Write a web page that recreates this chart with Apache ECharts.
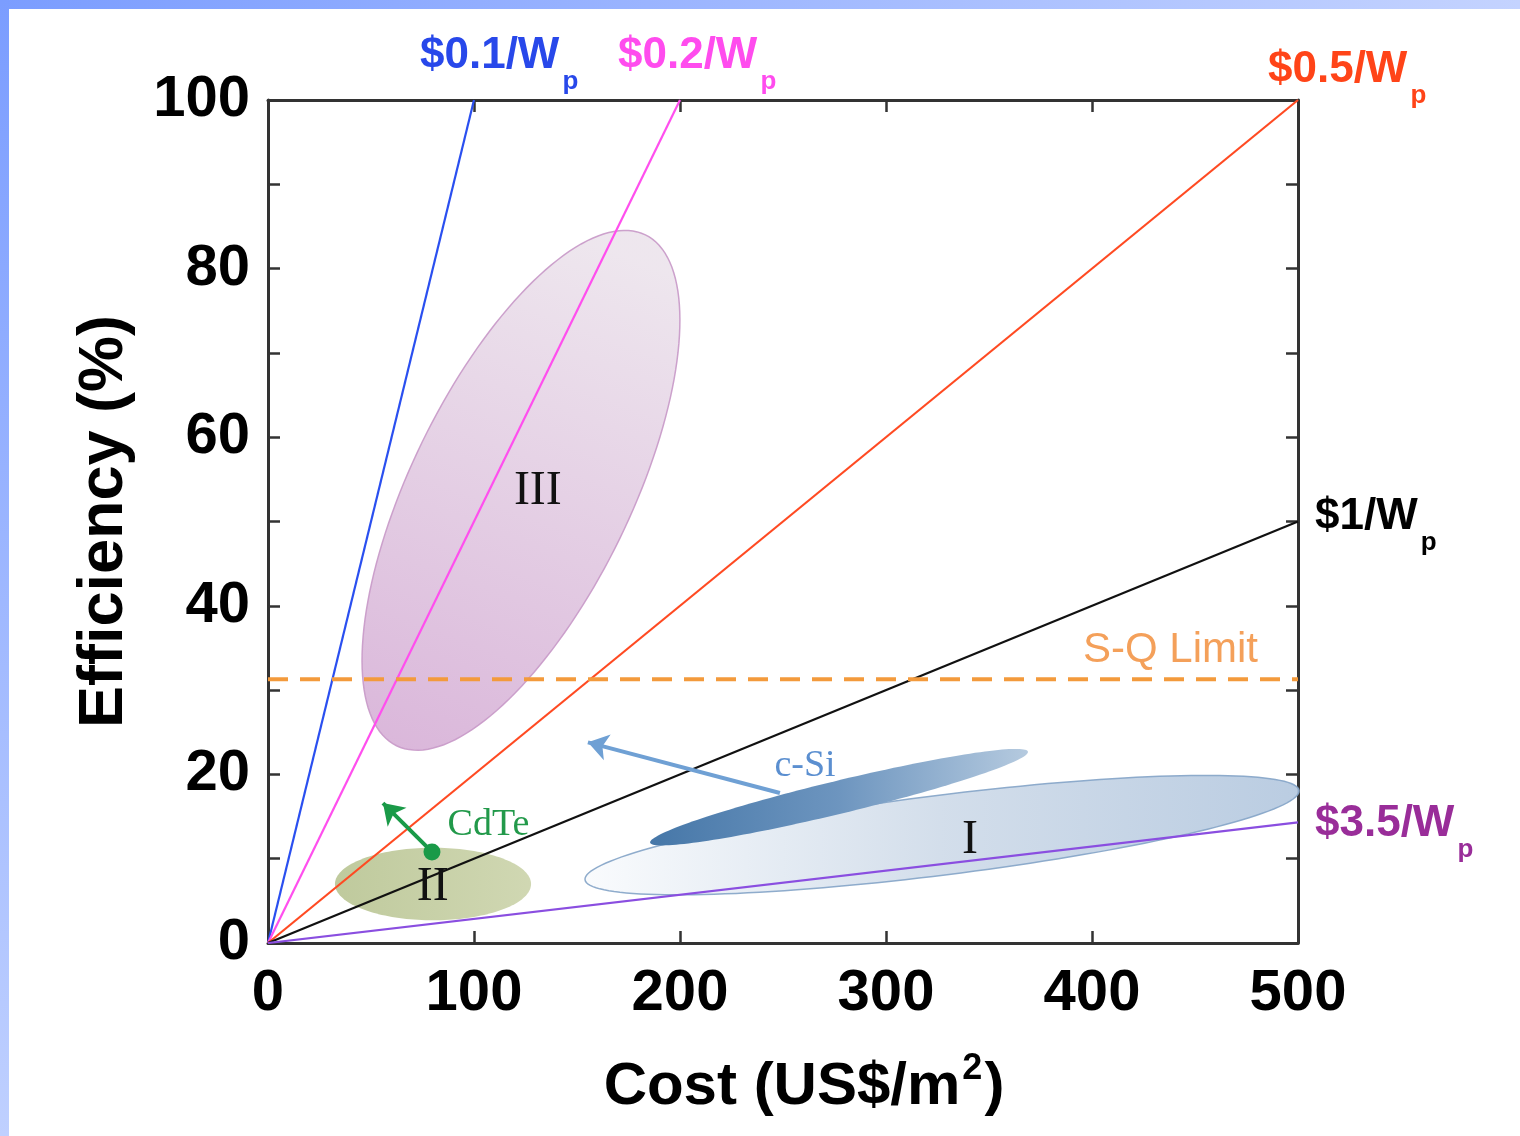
<!DOCTYPE html>
<html><head><meta charset="utf-8">
<script src="https://cdn.jsdelivr.net/npm/echarts@6/dist/echarts.min.js"></script>
<style>html,body{margin:0;padding:0;background:#fff}#c{width:1520px;height:1136px}</style>
</head><body><div id="c"></div><script>
// ---- data ----
const xTickValues = [0, 100, 200, 300, 400, 500];
const yTickLabels = [0, 20, 40, 60, 80, 100];
const priceNames = ['$0.1/W', '$0.2/W', '$0.5/W', '$1/W', '$3.5/W'];
const priceEndX = [100, 200, 500, 500, 500];
const priceEndY = [100, 100, 100, 50, 14.3];
const sqLimit = 31.3;
const regionNames = ['III', 'II', 'I', 'c-Si'];
const regionCX = [122.8, 80.1, 327.2, 277.2];
const regionCY = [53.7, 7.0, 12.8, 17.3];
const regionAX = [183.2, 127.7, 500.5, 368.9];
const regionAY = [84.0, 7.0, 18.1, 22.7];
const regionBX = [170.8, 80.1, 329.6, 279.1];
const regionBY = [48.0, 11.3, 8.1, 15.4];
const noteText = ['III', 'II', 'I', 'c-Si', 'CdTe'];
const noteX = [131, 80, 340.8, 260.7, 107];
const noteY = [53.6, 6.6, 12.2, 21.0, 14.0];
const cdtePoint = [79.6, 10.8];
const arrowFromX = [79.6, 248.5];
const arrowFromY = [10.8, 17.8];
const arrowToX = [55.8, 155.3];
const arrowToY = [16.6, 23.8];

// ---- styles ----
const SANS = "'Liberation Sans', Arial, sans-serif";
const SERIF = "'Liberation Serif', 'Times New Roman', serif";
const priceColors = ['#2a4ff0', '#ff4fee', '#ff4a22', '#111111', '#8a4ee0'];
const priceLabelColors = ['#2848ea', '#ff4cee', '#ff4418', '#000000', '#992d99'];
const priceLabelOffsets = [[-54, -44], [-62, -44], [-30, -30], [17, -5], [17, 1]];
const regionStyles = [
  {fill: {type: 'linear', x: 0, y: 1, x2: 0.6, y2: 0, colorStops: [{offset: 0, color: '#d8b2d8'}, {offset: 1, color: '#ede5ed'}]}, stroke: '#c99cc9', lineWidth: 1.5, opacity: 0.95},
  {fill: {type: 'linear', x: 0, y: 0, x2: 1, y2: 0, colorStops: [{offset: 0, color: '#b8c492'}, {offset: 1, color: '#cbd3aa'}]}, stroke: 'rgba(0,0,0,0)', lineWidth: 0, opacity: 0.9},
  {fill: {type: 'linear', x: 0, y: 0, x2: 1, y2: 0, colorStops: [{offset: 0, color: '#f9fbfd'}, {offset: 0.5, color: '#cfdbe9'}, {offset: 1, color: '#b4c8df'}]}, stroke: '#85a5c8', lineWidth: 1.5, opacity: 0.92},
  {fill: {type: 'linear', x: 0, y: 0, x2: 1, y2: 0, colorStops: [{offset: 0, color: '#4677a8'}, {offset: 0.5, color: '#6d95bf'}, {offset: 1, color: '#b5cadf'}]}, stroke: 'rgba(0,0,0,0)', lineWidth: 0, opacity: 1}
];
const noteStyles = [
  {color: '#111', fontSize: 48, fontFamily: SERIF},
  {color: '#111', fontSize: 48, fontFamily: SERIF},
  {color: '#111', fontSize: 48, fontFamily: SERIF},
  {color: '#5b8fd0', fontSize: 38, fontFamily: SERIF},
  {color: '#22994a', fontSize: 38, fontFamily: SERIF}
];
const arrowColors = ['#1a9a48', '#6fa0d4'];

const chart = echarts.init(document.getElementById('c'), null, {renderer: 'canvas'});

function axisCommon(showLabel) {
  return {
    type: 'value', min: 0, splitLine: {show: false},
    axisLine: {show: true, onZero: false, lineStyle: {color: '#333', width: 3}},
    axisTick: {show: true, inside: true, length: 12, lineStyle: {color: '#333', width: 2.5}},
    axisLabel: {show: showLabel, color: '#000', fontSize: 58, fontWeight: 'bold', fontFamily: SANS, margin: 18}
  };
}

const xBottom = Object.assign(axisCommon(true), {
  max: 500, interval: 100, position: 'bottom',
  name: 'Cost (US$/m{sup|2})', nameLocation: 'middle', nameGap: 108,
  nameTextStyle: {color: '#000', fontSize: 60, fontWeight: 'bold', fontFamily: SANS, padding: [0, 0, 0, 42],
    rich: {sup: {fontSize: 36, fontWeight: 'bold', fontFamily: SANS, color: '#000', padding: [0, 2, 36, 2]}}}
});
xBottom.axisLabel.formatter = v => xTickValues.indexOf(v) >= 0 ? String(v) : '';
xBottom.axisLabel.margin = 22;
const xTop = Object.assign(axisCommon(false), {max: 500, interval: 100, position: 'top'});
const yLeft = Object.assign(axisCommon(true), {
  max: 100, interval: 10, position: 'left',
  name: 'Efficiency (%)', nameLocation: 'middle', nameGap: 132,
  nameTextStyle: {color: '#000', fontSize: 63, fontWeight: 'bold', fontFamily: SANS}
});
yLeft.axisLabel.formatter = v => yTickLabels.indexOf(v) >= 0 ? String(v) : '';
const yRight = Object.assign(axisCommon(false), {max: 100, interval: 10, position: 'right'});

const series = [];

// regions (ellipses)
series.push({
  type: 'custom', name: 'regions', z: 2, silent: true,
  data: regionNames.map((n, i) => [regionCX[i], regionCY[i], regionAX[i], regionAY[i], regionBX[i], regionBY[i]]),
  encode: {x: [0, 2, 4], y: [1, 3, 5]},
  renderItem: function (params, api) {
    const i = params.dataIndex;
    const cx = api.value(0), cy = api.value(1), ax = api.value(2), ay = api.value(3), bx = api.value(4), by = api.value(5);
    const pts = [];
    const N = 160;
    for (let k = 0; k < N; k++) {
      const t = k / N * Math.PI * 2, c = Math.cos(t), s = Math.sin(t);
      pts.push(api.coord([cx + (ax - cx) * c + (bx - cx) * s, cy + (ay - cy) * c + (by - cy) * s]));
    }
    return {type: 'polygon', shape: {points: pts}, style: regionStyles[i]};
  }
});

// price lines
priceNames.forEach((n, i) => {
  series.push({
    type: 'line', name: n, z: 4, symbol: 'none', silent: true,
    lineStyle: {color: priceColors[i], width: 2.2},
    data: [[0, 0], [priceEndX[i], priceEndY[i]]]
  });
});

// S-Q limit
series.push({
  type: 'line', name: 'S-Q Limit', z: 4, symbol: 'none', silent: true,
  lineStyle: {color: '#f39a3c', width: 4, type: [20, 12]},
  data: [[0, sqLimit], [500, sqLimit]]
});

// line labels
const labelData = priceNames.map((n, i) => ({
  value: [priceEndX[i], priceEndY[i]],
  label: {
    show: true, position: 'inside', align: 'left', verticalAlign: 'middle',
    offset: priceLabelOffsets[i], opacity: 1,
    formatter: '{a|' + n + '}{s|p}',
    rich: {
      a: {color: priceLabelColors[i], fontSize: 44, fontWeight: 'bold', fontFamily: SANS, opacity: 1},
      s: {color: priceLabelColors[i], fontSize: 26, fontWeight: 'bold', fontFamily: SANS, opacity: 1, padding: [52, 0, 0, 3]}
    }
  }
}));
labelData.push({
  value: [500, sqLimit],
  label: {show: true, position: 'inside', align: 'right', verticalAlign: 'middle', offset: [-40, -29], opacity: 1,
    formatter: 'S-Q Limit', color: '#f4a05a', fontSize: 42, fontFamily: SANS}
});
series.push({
  type: 'scatter', name: 'labels', z: 6, silent: true, symbolSize: 1,
  itemStyle: {color: 'rgba(0,0,0,0)', opacity: 1},
  data: labelData
});

// region notes
series.push({
  type: 'scatter', name: 'notes', z: 6, silent: true, symbolSize: 1,
  itemStyle: {color: 'rgba(0,0,0,0)', opacity: 1},
  data: noteText.map((t, i) => ({
    value: [noteX[i], noteY[i]],
    label: Object.assign({show: true, position: 'inside', formatter: t, opacity: 1}, noteStyles[i])
  }))
});

// arrows
series.push({
  type: 'lines', coordinateSystem: 'cartesian2d', z: 5, silent: true,
  symbol: ['none', 'arrow'], symbolSize: 20,
  data: arrowFromX.map((x, i) => ({
    coords: [[x, arrowFromY[i]], [arrowToX[i], arrowToY[i]]],
    lineStyle: {color: arrowColors[i], width: 4, opacity: 1, curveness: 0}
  }))
});

// CdTe point
series.push({
  type: 'scatter', name: 'CdTe', z: 6, silent: true, symbolSize: 17,
  itemStyle: {color: '#1a9a48', opacity: 1},
  data: [cdtePoint]
});

chart.setOption({
  animation: false,
  backgroundColor: '#ffffff',
  grid: {left: 268, top: 100, width: 1030, height: 843, containLabel: false},
  xAxis: [xBottom, xTop],
  yAxis: [yLeft, yRight],
  graphic: [
    {type: 'rect', left: 0, top: 0, z: 100, shape: {width: 1520, height: 9},
      style: {fill: {type: 'linear', x: 0, y: 0, x2: 1, y2: 0, colorStops: [{offset: 0, color: '#7b9dff'}, {offset: 1, color: '#c4d3ff'}]}}},
    {type: 'rect', left: 0, top: 0, z: 100, shape: {width: 9, height: 1136},
      style: {fill: {type: 'linear', x: 0, y: 0, x2: 0, y2: 1, colorStops: [{offset: 0, color: '#7b9dff'}, {offset: 1, color: '#bfd0ff'}]}}}
  ],
  series: series
});
</script></body></html>
